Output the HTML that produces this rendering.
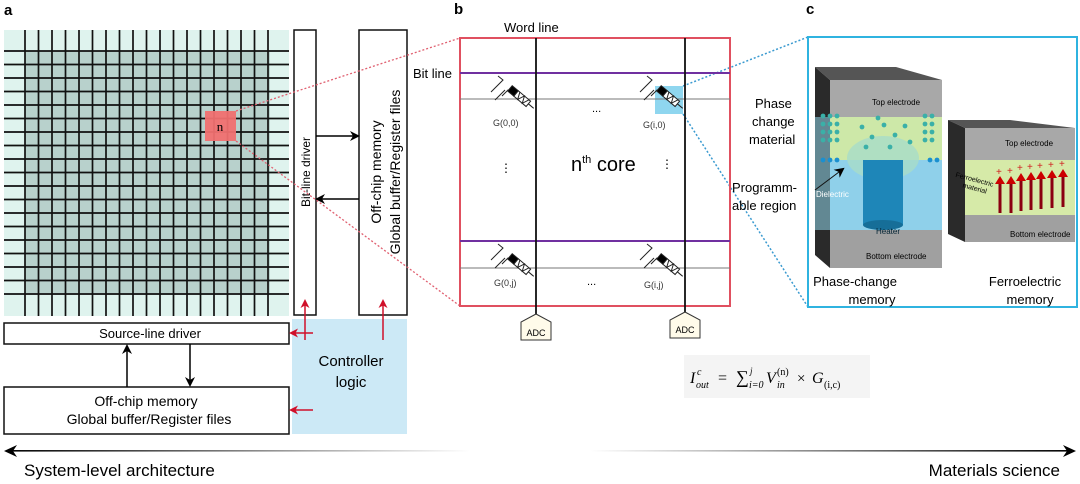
<!DOCTYPE html>
<html><head><meta charset="utf-8"><style>
html,body{margin:0;padding:0;background:#fff;}
svg{display:block;font-family:"Liberation Sans",Arial,sans-serif;}
</style></head><body>
<svg width="1080" height="484" viewBox="0 0 1080 484" xmlns="http://www.w3.org/2000/svg">
<defs>
<marker id="ab" markerWidth="10" markerHeight="10" refX="8" refY="5" orient="auto" markerUnits="userSpaceOnUse"><path d="M0,0 L10,5 L0,10 L3,5 z" fill="#000"/></marker>
<marker id="ar" markerWidth="9" markerHeight="9" refX="7" refY="4.5" orient="auto" markerUnits="userSpaceOnUse"><path d="M0,0 L9,4.5 L0,9 L2.5,4.5 z" fill="#d0102a"/></marker>
<linearGradient id="gL" gradientUnits="userSpaceOnUse" x1="4" y1="0" x2="470" y2="0"><stop offset="0" stop-color="#000"/><stop offset="1" stop-color="#fff"/></linearGradient>
<linearGradient id="gR" gradientUnits="userSpaceOnUse" x1="590" y1="0" x2="1076" y2="0"><stop offset="0" stop-color="#fff"/><stop offset="1" stop-color="#000"/></linearGradient>
</defs>
<text x="4" y="15" font-size="15" font-weight="bold">a</text>
<text x="454" y="14" font-size="15" font-weight="bold">b</text>
<text x="806" y="14" font-size="15" font-weight="bold">c</text>

<!-- grid -->
<rect x="4" y="30" width="285" height="286" fill="#dff3ee"/>
<rect x="25" y="51" width="245" height="244" fill="#b8d1cc"/>
<g stroke="#111" stroke-width="1.7">
<path d="M4,51H289M4,64.5H289M4,78H289M4,91.5H289M4,105H289M4,118.5H289M4,132H289M4,145.5H289M4,159H289M4,172.5H289M4,186H289M4,199.5H289M4,213H289M4,226.5H289M4,240H289M4,253.5H289M4,267H289M4,280.5H289M4,294H289"/>
<path d="M25,30V316M38.5,30V316M52,30V316M65.5,30V316M79,30V316M92.5,30V316M106,30V316M119.5,30V316M133,30V316M146.5,30V316M160,30V316M173.5,30V316M187,30V316M200.5,30V316M214,30V316M227.5,30V316M241,30V316M254.5,30V316M268,30V316"/>
</g>
<rect x="205" y="111" width="31" height="30" fill="#f07070" opacity="0.95"/>
<text x="220" y="131" font-size="13" text-anchor="middle" font-family="Liberation Serif,serif">n</text>

<rect x="294" y="30" width="22" height="285" fill="#fff" stroke="#111" stroke-width="1.5"/>
<text transform="translate(310,172) rotate(-90)" font-size="12" text-anchor="middle">Bit-line driver</text>
<rect x="359" y="30" width="48" height="285" fill="#fff" stroke="#111" stroke-width="1.5"/>
<text transform="translate(381,172) rotate(-90)" font-size="14" text-anchor="middle">Off-chip memory</text>
<text transform="translate(400,172) rotate(-90)" font-size="14" text-anchor="middle">Global buffer/Register files</text>
<line x1="316" y1="136" x2="358" y2="136" stroke="#000" stroke-width="1.5" marker-end="url(#ab)"/>
<line x1="359" y1="199" x2="317" y2="199" stroke="#000" stroke-width="1.5" marker-end="url(#ab)"/>

<rect x="292" y="319" width="115" height="115" fill="#cce9f6"/>
<text x="351" y="366" font-size="15" text-anchor="middle">Controller</text>
<text x="351" y="387" font-size="15" text-anchor="middle">logic</text>

<rect x="4" y="323" width="285" height="21" fill="#fff" stroke="#111" stroke-width="1.5"/>
<text x="150" y="338" font-size="13" text-anchor="middle">Source-line driver</text>
<rect x="4" y="387" width="285" height="47" fill="#fff" stroke="#111" stroke-width="1.5"/>
<text x="146" y="406" font-size="14" text-anchor="middle">Off-chip memory</text>
<text x="149" y="424" font-size="14" text-anchor="middle">Global buffer/Register files</text>
<line x1="127" y1="387" x2="127" y2="346" stroke="#000" stroke-width="1.5" marker-end="url(#ab)"/>
<line x1="190" y1="344" x2="190" y2="385" stroke="#000" stroke-width="1.5" marker-end="url(#ab)"/>

<g stroke="#d0102a" stroke-width="1.5" fill="none">
<line x1="305" y1="340" x2="305" y2="301" marker-end="url(#ar)"/>
<line x1="313" y1="333" x2="291" y2="333" marker-end="url(#ar)"/>
<line x1="383" y1="340" x2="383" y2="301" marker-end="url(#ar)"/>
<line x1="313" y1="410" x2="291" y2="410" marker-end="url(#ar)"/>
</g>

<g stroke="#e06070" stroke-width="1.3" stroke-dasharray="2,2" fill="none">
<line x1="236" y1="111" x2="460" y2="38"/><line x1="236" y1="141" x2="460" y2="306"/>
</g>
<g stroke="#3a9ad0" stroke-width="1.5" stroke-dasharray="2,2" fill="none">
<line x1="683" y1="86" x2="808" y2="37"/><line x1="683" y1="114" x2="808" y2="307"/>
</g>

<!-- panel b -->
<text x="504" y="32" font-size="13">Word line</text>
<text x="413" y="78" font-size="13">Bit line</text>
<rect x="460" y="38" width="270" height="268" fill="none" stroke="#e05060" stroke-width="2"/>
<rect x="655" y="86" width="28" height="28" fill="#8fd6ef"/>
<g stroke="#7030a0" stroke-width="2"><line x1="460" y1="73" x2="730" y2="73"/><line x1="460" y1="241" x2="730" y2="241"/></g>
<g stroke="#777" stroke-width="1"><line x1="460" y1="99" x2="730" y2="99"/><line x1="460" y1="268" x2="730" y2="268"/></g>
<g stroke="#111" stroke-width="1.8"><line x1="536" y1="38" x2="536" y2="314"/><line x1="685" y1="38" x2="685" y2="312"/></g>
<g id="cell" fill="none" stroke="#222" stroke-width="1">
<path d="M498,76 l5,4 l-12,12 M495,100 l10,-10 M502,96 l6,-6 l3,2"/>
<g transform="rotate(40 521 97)">
<rect x="507" y="94" width="8" height="7" fill="#000"/>
<rect x="515" y="94" width="16" height="7" fill="#fff"/>
<path d="M517,94 l3,7 l3,-7 l3,7 l3,-7"/>
<line x1="531" y1="97.5" x2="538" y2="97.5"/>
</g>
</g>
<use href="#cell" x="149"/>
<use href="#cell" y="168"/>
<use href="#cell" x="149" y="168"/>
<g font-size="9" fill="#333">
<text x="493" y="126">G(0,0)</text><text x="643" y="128">G(i,0)</text>
<text x="494" y="286">G(0,j)</text><text x="644" y="288">G(i,j)</text>
</g>
<text x="592" y="112" font-size="11">...</text><text x="587" y="285" font-size="11">...</text>
<text x="500" y="172" font-size="12">⋮</text><text x="661" y="168" font-size="12">⋮</text>
<text x="571" y="171" font-size="20">n<tspan font-size="11" dy="-8">th</tspan><tspan dy="8"> core</tspan></text>
<path d="M536,314 l-15,8 v18 h30 v-18 z" fill="#fffbea" stroke="#333"/>
<text x="536" y="336" font-size="9" text-anchor="middle">ADC</text>
<path d="M685,312 l-15,8 v18 h30 v-18 z" fill="#fffbea" stroke="#333"/>
<text x="685" y="333" font-size="9" text-anchor="middle">ADC</text>

<rect x="684" y="355" width="186" height="43" fill="#f4f4f4"/>
<g font-family="Liberation Serif,serif" font-style="italic">
<text x="690" y="383" font-size="16">I</text>
<text x="697" y="375" font-size="10">c</text>
<text x="696" y="388" font-size="10">out</text>
<text x="718" y="383" font-size="16" font-style="normal">=</text>
<text x="736" y="383" font-size="18" font-style="normal">∑</text>
<text x="750" y="374" font-size="9">j</text>
<text x="749" y="388" font-size="10">i=0</text>
<text x="766" y="383" font-size="16">V</text>
<text x="777" y="375" font-size="10" font-style="normal">(n)</text>
<text x="777" y="388" font-size="10">in</text>
<text x="797" y="383" font-size="15" font-style="normal">×</text>
<text x="812" y="383" font-size="16">G</text>
<text x="824" y="388" font-size="10" font-style="normal">(i,c)</text>
</g>

<!-- panel c -->
<text x="755" y="108" font-size="13">Phase</text>
<text x="752" y="126" font-size="13">change</text>
<text x="749" y="144" font-size="13">material</text>
<text x="732" y="192" font-size="13">Programm-</text>
<text x="732" y="210" font-size="13">able region</text>
<rect x="808" y="37" width="269" height="270" fill="none" stroke="#2fb3e0" stroke-width="2"/>
<polygon points="815,67 896,67 942,80 830,80" fill="#555"/>
<polygon points="830,80 942,80 942,117 830,117" fill="#a8a8a8"/>
<polygon points="815,67 830,80 830,268 815,255" fill="#2a2a2a"/>
<rect x="830" y="117" width="112" height="43" fill="#cde8a8"/>
<rect x="830" y="160" width="112" height="70" fill="#8fd0ea"/>
<rect x="815" y="117" width="15" height="113" fill="#7ab0c0" opacity="0.7"/>
<rect x="830" y="230" width="112" height="38" fill="#a0a0a0"/>
<ellipse cx="883" cy="158" rx="36" ry="22" fill="#a8dcc8" opacity="0.8"/>
<rect x="863" y="160" width="40" height="65" fill="#1e86b8"/>
<ellipse cx="883" cy="225" rx="20" ry="5" fill="#166e98"/>
<g fill="#3ab0a8">
<circle cx="823" cy="116" r="2.4"/><circle cx="830" cy="116" r="2.4"/><circle cx="837" cy="116" r="2.4"/><circle cx="823" cy="124" r="2.4"/><circle cx="830" cy="124" r="2.4"/><circle cx="837" cy="124" r="2.4"/><circle cx="823" cy="132" r="2.4"/><circle cx="830" cy="132" r="2.4"/><circle cx="837" cy="132" r="2.4"/><circle cx="823" cy="140" r="2.4"/><circle cx="830" cy="140" r="2.4"/><circle cx="837" cy="140" r="2.4"/>
<circle cx="925" cy="116" r="2.4"/><circle cx="932" cy="116" r="2.4"/><circle cx="925" cy="124" r="2.4"/><circle cx="932" cy="124" r="2.4"/><circle cx="925" cy="132" r="2.4"/><circle cx="932" cy="132" r="2.4"/><circle cx="925" cy="140" r="2.4"/><circle cx="932" cy="140" r="2.4"/>
<circle cx="862" cy="127" r="2.4"/><circle cx="872" cy="137" r="2.4"/><circle cx="884" cy="125" r="2.4"/><circle cx="895" cy="135" r="2.4"/><circle cx="905" cy="126" r="2.4"/><circle cx="866" cy="147" r="2.4"/><circle cx="890" cy="147" r="2.4"/><circle cx="910" cy="142" r="2.4"/><circle cx="878" cy="118" r="2.4"/>
</g>
<g fill="#1a90d0"><circle cx="823" cy="160" r="2.4"/><circle cx="830" cy="160" r="2.4"/><circle cx="837" cy="160" r="2.4"/><circle cx="930" cy="160" r="2.4"/><circle cx="937" cy="160" r="2.4"/></g>
<line x1="815" y1="190" x2="843" y2="169" stroke="#111" stroke-width="1" marker-end="url(#ab)"/>
<text x="872" y="105" font-size="8">Top electrode</text>
<text x="816" y="197" font-size="8" fill="#fff">Dielectric</text>
<text x="876" y="234" font-size="8" fill="#023">Heater</text>
<text x="866" y="259" font-size="8">Bottom electrode</text>
<text x="855" y="286" font-size="13" text-anchor="middle">Phase-change</text>
<text x="872" y="304" font-size="13" text-anchor="middle">memory</text>
<polygon points="948,120 1010,120 1075,128 965,128" fill="#555"/>
<rect x="965" y="128" width="110" height="32" fill="#a8a8a8"/>
<polygon points="948,120 965,128 965,242 948,234" fill="#2a2a2a"/>
<rect x="965" y="160" width="110" height="55" fill="#d6eaa8"/>
<rect x="965" y="215" width="110" height="27" fill="#a0a0a0"/>
<text x="1005" y="146" font-size="8">Top electrode</text>
<text x="955" y="178" font-size="7" transform="rotate(15 960 178)">Ferroelectric</text>
<text x="962" y="188" font-size="7" transform="rotate(15 965 188)">material</text>
<g stroke="#8a0010" stroke-width="3">
<line x1="1000" y1="213" x2="1000" y2="182"/><line x1="1011" y1="213" x2="1011" y2="182"/><line x1="1021" y1="211" x2="1021" y2="179"/><line x1="1031" y1="210" x2="1031" y2="178"/><line x1="1041" y1="209" x2="1041" y2="177"/><line x1="1052" y1="208" x2="1052" y2="176"/><line x1="1063" y1="207" x2="1063" y2="175"/>
</g>
<g fill="#c00">
<path d="M995,184 l5,-8 l5,8z M1006,184 l5,-8 l5,8z M1016,181 l5,-8 l5,8z M1026,180 l5,-8 l5,8z M1036,179 l5,-8 l5,8z M1047,178 l5,-8 l5,8z M1058,177 l5,-8 l5,8z"/>
</g>
<g fill="#d02020" font-size="10"><text x="996" y="175">+</text><text x="1007" y="174">+</text><text x="1017" y="171">+</text><text x="1027" y="170">+</text><text x="1037" y="169">+</text><text x="1048" y="168">+</text><text x="1059" y="167">+</text></g>
<text x="1010" y="237" font-size="8">Bottom electrode</text>
<text x="1025" y="286" font-size="13" text-anchor="middle">Ferroelectric</text>
<text x="1030" y="304" font-size="13" text-anchor="middle">memory</text>

<!-- bottom axis -->
<rect x="8" y="450" width="462" height="1.6" fill="url(#gL)"/>
<path d="M4,451 l13,-6 l-4,6 l4,6z" fill="#000"/>
<rect x="590" y="450" width="482" height="1.6" fill="url(#gR)"/>
<path d="M1076,451 l-13,-6 l4,6 l-4,6z" fill="#000"/>
<text x="24" y="476" font-size="17">System-level architecture</text>
<text x="1060" y="476" font-size="17" text-anchor="end">Materials science</text>
</svg>
</body></html>
